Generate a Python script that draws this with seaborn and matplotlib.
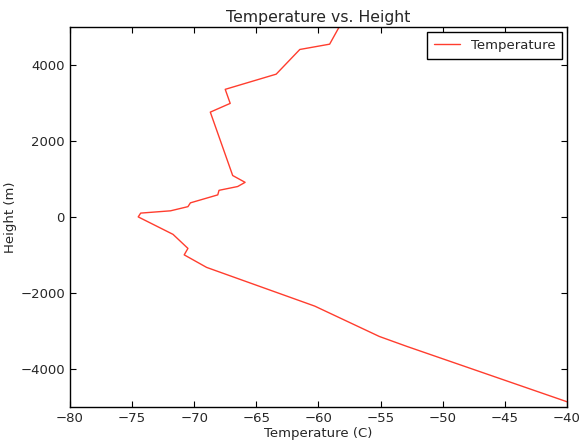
import matplotlib
matplotlib.use("Agg")
import matplotlib.pyplot as plt
import seaborn as sns

# valores (temperatura em C, altura em m)
temperatura = [-58.0, -59.1, -61.5, -63.4, -67.5, -67.1, -68.7, -66.9, -65.9,
               -66.5, -68.0, -68.1, -70.3, -70.5, -71.9, -74.3, -74.5, -71.7,
               -70.5, -70.8, -69.0, -60.3, -55.1, -52.9, -40.0]
altura = [5200, 4550, 4410, 3760, 3360, 2990, 2760, 1090, 910,
          800, 700, 580, 370, 270, 160, 100, 0, -460,
          -830, -1000, -1330, -2350, -3150, -3410, -4870]

sns.set_style("white")
plt.rcParams['font.family'] = ['DejaVu Sans']
plt.rcParams['xtick.direction'] = 'in'
plt.rcParams['ytick.direction'] = 'in'

fig = plt.figure(figsize=(5.87, 4.44), dpi=100)
ax = fig.add_axes([0.119, 0.084, 0.847, 0.855])

sns.lineplot(x=temperatura, y=altura, sort=False, estimator=None,
             color='#ff3d2e', linewidth=1.0, label='Temperature', ax=ax)

ax.set_xlim(-80, -40)
ax.set_ylim(-5000, 5000)
ax.set_xticks(range(-80, -39, 5))
ax.set_yticks(range(-4000, 4001, 2000))
ax.tick_params(axis='both', which='both', labelsize=9.5, length=4, width=0.8,
               color='black', top=True, right=True, bottom=True, left=True)
for s in ax.spines.values():
    s.set_color('black')
    s.set_linewidth(1.0)

ax.set_title('Temperature vs. Height', fontsize=11.3, pad=4)
ax.set_xlabel('Temperature (C)', fontsize=9.5, labelpad=2)
ax.set_ylabel('Height (m)', fontsize=9.5, labelpad=2)

leg = ax.legend(loc='upper right', fontsize=9.5, fancybox=False, framealpha=1,
                borderpad=0.5, handlelength=2.0, borderaxespad=0.4)
leg.get_frame().set_edgecolor('black')
leg.get_frame().set_linewidth(1.0)

fig.savefig('out.png', dpi=100)
